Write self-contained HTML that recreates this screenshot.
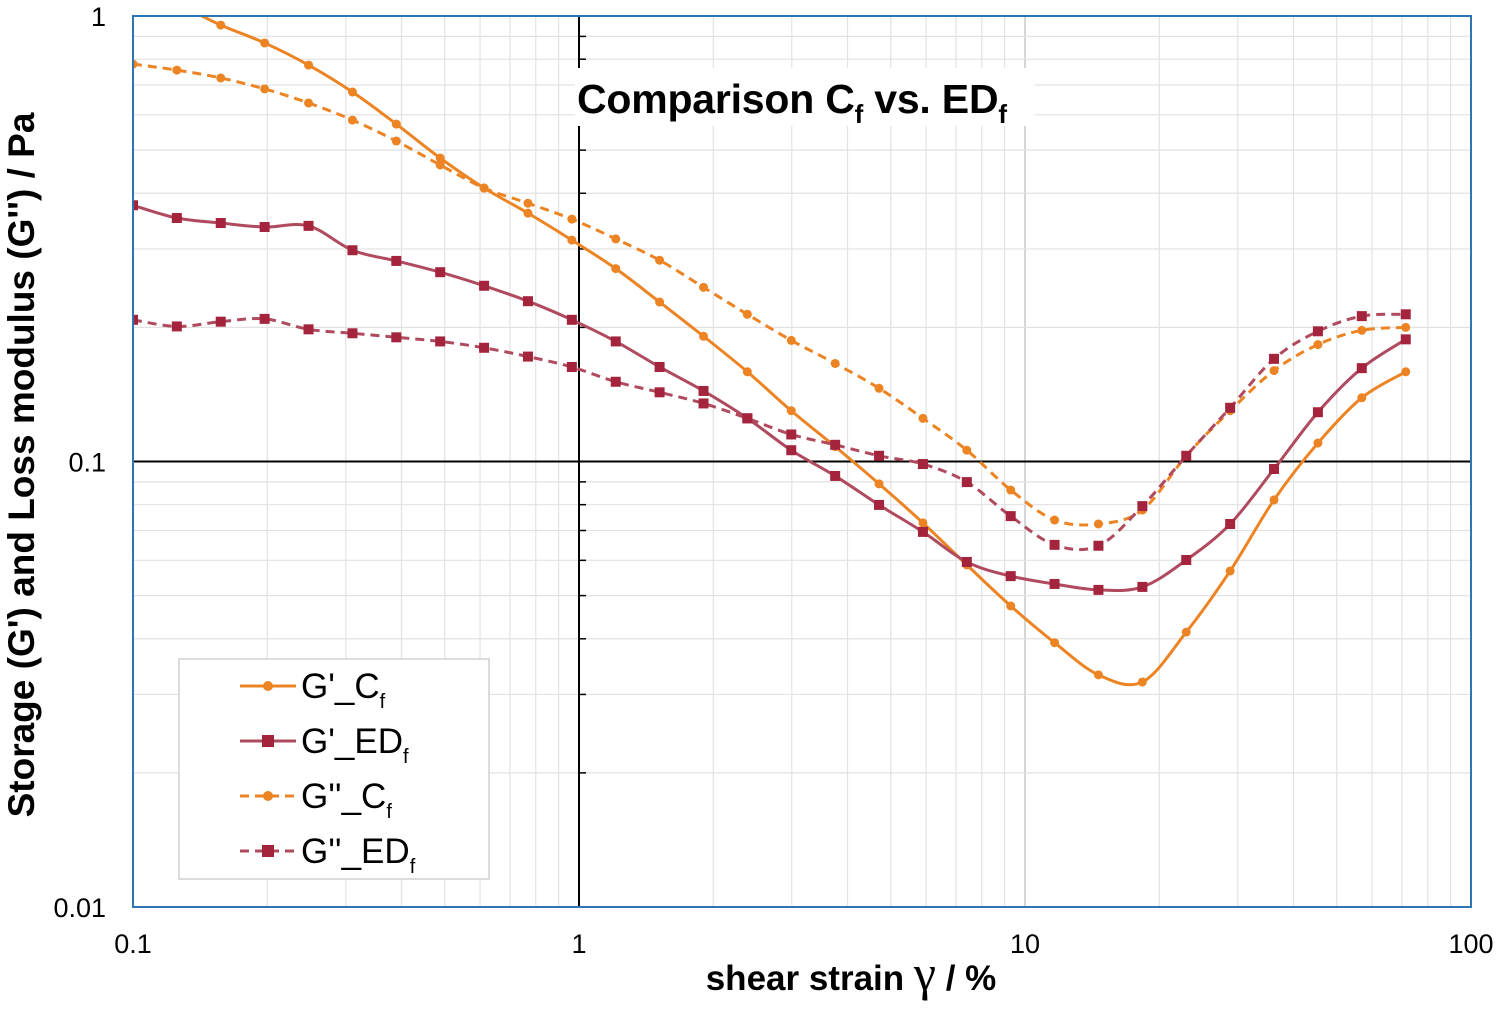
<!DOCTYPE html>
<html><head><meta charset="utf-8"><style>
html,body{margin:0;padding:0;background:#fff;}
svg{display:block;font-family:"Liberation Sans",Arial,sans-serif;}
</style></head><body>
<svg id="chart" width="1500" height="1009" viewBox="0 0 1500 1009">
<g id="grid"></g>
<g id="axes"></g>
<rect x="575" y="68" width="460" height="58" fill="#fff"/>
<text x="577" y="113" font-size="41" font-weight="bold" textLength="430">Comparison C<tspan font-size="26" dy="10">f</tspan><tspan dy="-10"> vs. ED</tspan><tspan font-size="26" dy="10">f</tspan></text>
<g id="series"></g>
<rect x="133" y="16" width="1338" height="891" fill="none" stroke="#2E75B6" stroke-width="2"/>
<g id="ticklabels"></g>
<text x="851" y="990" font-size="35" font-weight="bold" text-anchor="middle">shear strain <tspan font-family="Liberation Serif,serif" font-weight="normal" font-size="50">γ</tspan> / %</text>
<text transform="translate(34,465) rotate(-90)" font-size="37" font-weight="bold" text-anchor="middle">Storage (G') and Loss modulus (G'') / Pa</text>
<g id="legend"></g>
</svg>
<script>
const strain = [0.1,0.1254,0.1573,0.1973,0.2475,0.3105,0.3894,0.4884,0.6126,0.7684,0.9638,1.209,1.516,1.902,2.385,2.992,3.753,4.707,5.904,7.406,9.289,11.65,14.61,18.33,22.99,28.84,36.17,45.37,56.9,71.4];
const gpCf = [1.114,1.06,0.954,0.870,0.776,0.675,0.572,0.480,0.411,0.361,0.314,0.271,0.228,0.191,0.159,0.130,0.108,0.0891,0.0728,0.0586,0.0474,0.0392,0.0332,0.0320,0.0414,0.0568,0.0820,0.110,0.139,0.159];
const gpEDf = [0.376,0.352,0.343,0.336,0.338,0.298,0.282,0.266,0.248,0.229,0.208,0.186,0.163,0.144,0.125,0.106,0.0928,0.0799,0.0695,0.0595,0.0553,0.0531,0.0515,0.0523,0.0601,0.0724,0.0962,0.129,0.162,0.188];
const gppCf = [0.780,0.756,0.726,0.686,0.638,0.584,0.524,0.463,0.411,0.380,0.350,0.316,0.283,0.246,0.214,0.187,0.166,0.146,0.125,0.106,0.0863,0.0739,0.0724,0.0778,0.103,0.130,0.160,0.183,0.197,0.200];
const gppEDf = [0.208,0.201,0.206,0.209,0.198,0.194,0.190,0.186,0.180,0.172,0.163,0.151,0.143,0.135,0.125,0.115,0.109,0.103,0.0987,0.0899,0.0754,0.0650,0.0647,0.0794,0.103,0.132,0.170,0.196,0.212,0.214];
const xTicks = ["0.1","1","10","100"];
const yTicks = ["1","0.1","0.01"];
const seriesNames = ["G'_C","G'_ED","G''_C","G''_ED"];

const NS="http://www.w3.org/2000/svg";
const X0=133,X1=1471,Y0=16,Y1=907;
function xs(v){return X0+(Math.log10(v)+1)/3*(X1-X0);}
function ys(v){return Y0+(0-Math.log10(v))/2*(Y1-Y0);}
function mk(tag,attrs,parent){const e=document.createElementNS(NS,tag);for(const k in attrs)e.setAttribute(k,attrs[k]);parent.appendChild(e);return e;}
const grid=document.getElementById('grid'),axes=document.getElementById('axes');
for(let d=-1;d<2;d++)for(let m=1;m<10;m++){const v=m*Math.pow(10,d);const x=xs(v);
 const l=mk('line',{x1:x,x2:x,y1:Y0,y2:Y1,stroke:m==1?'#c8c8c8':'#e2e2e2','stroke-width':m==1?1.5:1.2},grid);
 
 }
for(let d=-2;d<0;d++)for(let m=1;m<10;m++){const v=m*Math.pow(10,d);const y=ys(v);
 const l=mk('line',{x1:X0,x2:X1,y1:y,y2:y,stroke:m==1?'#c8c8c8':'#e2e2e2','stroke-width':m==1?1.5:1.2},grid);
 
 
 const t=mk('line',{x1:xs(1),x2:xs(1)+7,y1:y,y2:y,stroke:'#000','stroke-width':1.5},axes);
 
 }
const va=mk('line',{x1:xs(1),x2:xs(1),y1:Y0,y2:Y1,stroke:'#000','stroke-width':2},axes);


const ha=mk('line',{x1:X0,x2:X1,y1:ys(0.1),y2:ys(0.1),stroke:'#000','stroke-width':2},axes);


const tl=document.getElementById('ticklabels');
xTicks.forEach(s=>{const t=mk('text',{x:xs(+s),y:953,'font-size':27,'text-anchor':'middle'},tl);t.textContent=s;
 
 });
yTicks.forEach(s=>{const t=mk('text',{x:106,y:ys(+s)+10,'font-size':27,'text-anchor':'end'},tl);t.textContent=s;
 
 });

function smoothPath(pts){let d='M'+pts[0][0]+','+pts[0][1];
 for(let i=0;i<pts.length-1;i++){const p0=pts[Math.max(0,i-1)],p1=pts[i],p2=pts[i+1],p3=pts[Math.min(pts.length-1,i+2)];
  const c1=[p1[0]+(p2[0]-p0[0])/6,p1[1]+(p2[1]-p0[1])/6],c2=[p2[0]-(p3[0]-p1[0])/6,p2[1]-(p3[1]-p1[1])/6];
  d+=' C'+c1[0]+','+c1[1]+' '+c2[0]+','+c2[1]+' '+p2[0]+','+p2[1];}
 return d;}
const ORANGE='#EC8424',RED='#A3243C',RED_LINE='#B04A5E';
const defs=mk('defs',{},document.getElementById('chart'));
const cp=mk('clipPath',{id:'clip'},defs);mk('rect',{x:X0,y:Y0,width:X1-X0,height:Y1-Y0},cp);
const sg=document.getElementById('series');sg.setAttribute('clip-path','url(#clip)');
const specs=[[gpCf,ORANGE,ORANGE,false,'circle','series-gp-cf'],[gpEDf,RED_LINE,RED,false,'square','series-gp-edf'],[gppCf,ORANGE,ORANGE,true,'circle','series-gpp-cf'],[gppEDf,RED_LINE,RED,true,'square','series-gpp-edf']];
specs.forEach(([vals,lc,mc,dash,shape,name])=>{
 const g=mk('g',{},sg);
 
 
 const pts=vals.map((v,i)=>[xs(strain[i]),ys(v)]);
 const p=mk('path',{d:smoothPath(pts),fill:'none',stroke:lc,'stroke-width':3,'stroke-dasharray':dash?'9,6':'none'},g);
 
 
 pts.forEach(([x,y])=>{let m;
  if(shape=='circle')m=mk('circle',{cx:x,cy:y,r:4.5,fill:mc},g);
  else m=mk('rect',{x:x-5,y:y-5,width:10,height:10,fill:mc},g);
  
  });
});
const lg=document.getElementById('legend');
const lb=mk('rect',{x:179,y:659,width:310,height:220,fill:'#fff',stroke:'#d0d0d0','stroke-width':1.5},lg);


specs.forEach(([vals,lc,mc,dash,shape,name],i)=>{
 const y=686+i*55;
 const g=mk('g',{},lg);
 
 
 mk('line',{x1:240,x2:296,y1:y,y2:y,stroke:lc,'stroke-width':3,'stroke-dasharray':dash?'9,6':'none'},g);
 if(shape=='circle')mk('circle',{cx:268,cy:y,r:5,fill:mc},g);else mk('rect',{x:262,y:y-6,width:12,height:12,fill:mc},g);
 const t=mk('text',{x:301,y:y+12,'font-size':35},g);
 t.innerHTML=seriesNames[i]+'<tspan font-size="20" dy="10">f</tspan>';
});
</script>
</body></html>
